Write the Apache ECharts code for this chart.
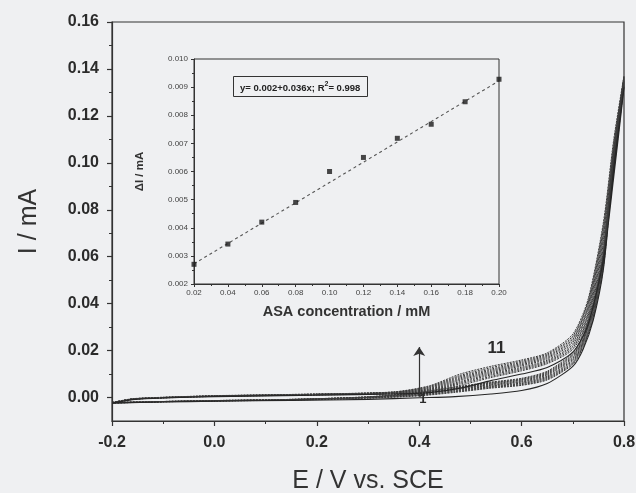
<!DOCTYPE html>
<html><head><meta charset="utf-8">
<script src="https://cdn.jsdelivr.net/npm/echarts@6/dist/echarts.min.js"></script>
<style>html,body{margin:0;padding:0;background:#eff0f2;} #c{width:636px;height:493px;}</style>
</head><body><div id="c"></div>
<script>
const FONT = '"Liberation Sans", Arial, sans-serif';

// ---- main plot tick values ----
const xMain = { min: -0.2, max: 0.8, step: 0.2 };
const yMajorTicks = [0, 0.02, 0.04, 0.06, 0.08, 0.10, 0.12, 0.14, 0.16];
const yMinorTicks = [0.01, 0.03, 0.05, 0.07, 0.09, 0.11, 0.13, 0.15];

// ---- CV scans (E / V vs. SCE, I / mA), cycles 1..11 ----
const forwardE = [-0.2, -0.16, -0.1, 0.0, 0.2, 0.35, 0.42, 0.48, 0.54, 0.60, 0.65, 0.70, 0.73, 0.76, 0.78, 0.80];
const forwardI = [
  [-0.0024,-0.0009,-0.0002,0.0004,0.0010,0.0015,0.0021,0.0040,0.0072,0.0100,0.0128,0.0193,0.0312,0.0590,0.0940,0.1320],
  [-0.0024,-0.0008,-0.0002,0.0005,0.0011,0.0016,0.0025,0.0052,0.0085,0.0114,0.0144,0.0205,0.0330,0.0612,0.0962,0.1325],
  [-0.0023,-0.0008,-0.0001,0.0005,0.0011,0.0017,0.0028,0.0058,0.0090,0.0119,0.0149,0.0212,0.0339,0.0628,0.0978,0.1330],
  [-0.0023,-0.0008,-0.0001,0.0005,0.0012,0.0018,0.0030,0.0063,0.0096,0.0124,0.0154,0.0219,0.0349,0.0644,0.0994,0.1335],
  [-0.0023,-0.0007,-0.0001,0.0006,0.0012,0.0019,0.0033,0.0068,0.0101,0.0129,0.0159,0.0226,0.0359,0.0659,0.1009,0.1340],
  [-0.0022,-0.0007,0.0000,0.0006,0.0013,0.0020,0.0035,0.0074,0.0106,0.0135,0.0165,0.0234,0.0370,0.0675,0.1025,0.1345],
  [-0.0022,-0.0007,0.0000,0.0006,0.0013,0.0021,0.0038,0.0079,0.0111,0.0140,0.0170,0.0241,0.0381,0.0691,0.1041,0.1350],
  [-0.0022,-0.0006,0.0000,0.0007,0.0014,0.0022,0.0041,0.0084,0.0116,0.0145,0.0175,0.0248,0.0391,0.0706,0.1056,0.1355],
  [-0.0022,-0.0006,0.0000,0.0007,0.0014,0.0023,0.0044,0.0089,0.0121,0.0150,0.0180,0.0255,0.0401,0.0721,0.1071,0.1360],
  [-0.0021,-0.0006,0.0001,0.0007,0.0015,0.0023,0.0047,0.0094,0.0127,0.0155,0.0185,0.0262,0.0411,0.0736,0.1086,0.1365],
  [-0.0021,-0.0005,0.0001,0.0008,0.0015,0.0024,0.0050,0.0100,0.0133,0.0160,0.0190,0.0270,0.0420,0.0750,0.1100,0.1370]
];
const reverseE = [0.78, 0.76, 0.74, 0.72, 0.70, 0.65, 0.60, 0.54, 0.47, 0.40, 0.30, 0.15, 0.0, -0.1, -0.2];
const reverseI = [
  [0.0980,0.0550,0.0330,0.0205,0.0133,0.0060,0.0030,0.0015,0.0004,-0.0001,-0.0008,-0.0012,-0.0016,-0.0019,-0.0024],
  [0.0988,0.0558,0.0338,0.0213,0.0141,0.0075,0.0052,0.0040,0.0022,0.0007,-0.0003,-0.0011,-0.0015,-0.0018,-0.0024],
  [0.0995,0.0565,0.0345,0.0219,0.0146,0.0079,0.0055,0.0043,0.0025,0.0009,-0.0002,-0.0010,-0.0015,-0.0018,-0.0023],
  [0.1003,0.0572,0.0352,0.0225,0.0151,0.0083,0.0059,0.0046,0.0028,0.0011,-0.0001,-0.0010,-0.0014,-0.0018,-0.0023],
  [0.1010,0.0580,0.0359,0.0231,0.0157,0.0087,0.0062,0.0049,0.0031,0.0013,0.0000,-0.0009,-0.0014,-0.0018,-0.0023],
  [0.1018,0.0587,0.0366,0.0237,0.0162,0.0091,0.0066,0.0052,0.0034,0.0015,0.0001,-0.0009,-0.0014,-0.0017,-0.0022],
  [0.1025,0.0595,0.0373,0.0243,0.0168,0.0096,0.0069,0.0055,0.0036,0.0016,0.0001,-0.0009,-0.0014,-0.0017,-0.0022],
  [0.1032,0.0602,0.0380,0.0249,0.0173,0.0100,0.0073,0.0058,0.0039,0.0018,0.0002,-0.0008,-0.0013,-0.0017,-0.0022],
  [0.1040,0.0610,0.0387,0.0256,0.0179,0.0104,0.0076,0.0061,0.0041,0.0019,0.0002,-0.0008,-0.0013,-0.0017,-0.0022],
  [0.1046,0.0615,0.0394,0.0262,0.0184,0.0108,0.0079,0.0063,0.0043,0.0021,0.0003,-0.0008,-0.0013,-0.0017,-0.0021],
  [0.1050,0.0620,0.0400,0.0268,0.0190,0.0112,0.0082,0.0066,0.0045,0.0022,0.0003,-0.0008,-0.0013,-0.0017,-0.0021]
];

// ---- inset: calibration ----
const asaConc = [0.02, 0.04, 0.06, 0.08, 0.10, 0.12, 0.14, 0.16, 0.18, 0.20];
const deltaI = [0.00270, 0.00342, 0.00420, 0.00490, 0.00600, 0.00650, 0.00718, 0.00768, 0.00848, 0.00928];
const fitX = [0.02, 0.20];
const fitY = [0.00272, 0.00922];
const fitText = ['y= 0.002+0.036x; R', '2', '= 0.998'];

// ---- annotations (data coords) ----
const arrowE = 0.40, arrowFrom = 0.0003, arrowTo = 0.0215;
const annotations = [
  { text: '1', E: 0.407, I: -0.0009, size: 13 },
  { text: '11', E: 0.551, I: 0.0208, size: 17 }
];

const chart = echarts.init(document.getElementById('c'), null, { renderer: 'canvas' });

const cvSeries = forwardI.map((fw, k) => {
  const pts = forwardE.map((e, i) => [e, fw[i]]).concat(reverseE.map((e, i) => [e, reverseI[k][i]]));
  const outer = (k === 0);
  return {
    type: 'line', xAxisIndex: 0, yAxisIndex: 0, data: pts,
    showSymbol: false, smooth: 0.25, silent: true, z: outer ? 4 : 3,
    lineStyle: outer ? { color: '#262626', width: 1.1 } : { color: '#3c3c3c', width: 1, type: [2, 1] },
    markLine: outer ? {
      silent: true, symbol: ['none', 'arrow'], symbolSize: 9,
      label: { show: false },
      lineStyle: { color: '#333', width: 1.2, type: 'solid' },
      data: [[{ coord: [arrowE, arrowFrom] }, { coord: [arrowE, arrowTo] }]]
    } : undefined
  };
});

const axisLineStyle = { color: '#333', width: 1.2 };

chart.setOption({
  backgroundColor: '#eff0f2',
  animation: false,
  title: {
    text: '{a|' + fitText[0] + '}{s|' + fitText[1] + '}{a|' + fitText[2] + '}',
    left: 233, top: 76,
    borderColor: '#333', borderWidth: 1, padding: [5, 7, 4, 7],
    textStyle: {
      rich: {
        a: { fontFamily: FONT, fontSize: 9.5, color: '#222', fontWeight: 'bold' },
        s: { fontFamily: FONT, fontSize: 7, color: '#222', fontWeight: 'bold', padding: [0, 0, 7, 0] }
      }
    }
  },
  grid: [
    { left: 112, right: 12, top: 22, bottom: 72, outerBoundsMode: 'none', containLabel: false,
      show: true, borderColor: '#333', borderWidth: 1.2, backgroundColor: 'transparent' },
    { left: 194, right: 137, top: 59, bottom: 209, outerBoundsMode: 'none', containLabel: false,
      show: true, borderColor: '#333', borderWidth: 1, backgroundColor: 'transparent' }
  ],
  xAxis: [
    {
      type: 'value', gridIndex: 0, min: xMain.min, max: xMain.max, interval: xMain.step,
      name: 'E / V vs. SCE', nameLocation: 'middle', nameGap: 48,
      nameTextStyle: { fontFamily: FONT, fontSize: 25, color: '#333' },
      axisLine: { onZero: false, lineStyle: axisLineStyle },
      axisTick: { show: true, inside: false, length: 5, lineStyle: axisLineStyle },
      minorTick: { show: true, splitNumber: 2, length: 3, lineStyle: { color: '#333', width: 1 } },
      axisLabel: { fontFamily: FONT, fontSize: 16, fontWeight: 'bold', color: '#2b2b2b', margin: 14,
        formatter: v => v.toFixed(1) },
      splitLine: { show: false }
    },
    {
      type: 'value', gridIndex: 1, min: 0.02, max: 0.20, interval: 0.02,
      name: 'ASA concentration / mM', nameLocation: 'middle', nameGap: 20,
      nameTextStyle: { fontFamily: FONT, fontSize: 14.5, fontWeight: 'bold', color: '#333' },
      axisLine: { onZero: false, lineStyle: { color: '#333', width: 1 } },
      axisTick: { show: true, length: 3, lineStyle: { color: '#333', width: 1 } },
      minorTick: { show: true, splitNumber: 2, length: 2, lineStyle: { color: '#333', width: 1 } },
      axisLabel: { fontFamily: FONT, fontSize: 8, color: '#444', margin: 5, formatter: v => v.toFixed(2) },
      splitLine: { show: false }
    }
  ],
  yAxis: [
    {
      type: 'value', gridIndex: 0, min: -0.01, max: 0.16,
      name: 'I / mA', nameLocation: 'middle', nameGap: 70, nameRotate: 90,
      nameTextStyle: { fontFamily: FONT, fontSize: 25, color: '#333' },
      axisLine: { show: true, onZero: false, lineStyle: axisLineStyle },
      axisTick: { show: true, length: 5, customValues: yMajorTicks, lineStyle: axisLineStyle },
      axisLabel: { fontFamily: FONT, fontSize: 16, fontWeight: 'bold', color: '#2b2b2b', margin: 13,
        customValues: yMajorTicks, formatter: v => v.toFixed(2) },
      splitLine: { show: false }
    },
    {
      type: 'value', gridIndex: 0, min: -0.01, max: 0.16, position: 'left', offset: 0,
      axisLine: { show: false, onZero: false },
      axisTick: { show: true, length: 3, customValues: yMinorTicks, lineStyle: { color: '#333', width: 1 } },
      axisLabel: { show: false },
      splitLine: { show: false }
    },
    {
      type: 'value', gridIndex: 1, min: 0.002, max: 0.010, interval: 0.001,
      name: 'ΔI / mA', nameLocation: 'middle', nameGap: 48, nameRotate: 90,
      nameTextStyle: { fontFamily: FONT, fontSize: 11.5, fontWeight: 'bold', color: '#333' },
      axisLine: { show: true, onZero: false, lineStyle: { color: '#333', width: 1 } },
      axisTick: { show: true, length: 3, lineStyle: { color: '#333', width: 1 } },
      minorTick: { show: true, splitNumber: 2, length: 2, lineStyle: { color: '#333', width: 1 } },
      axisLabel: { fontFamily: FONT, fontSize: 8, color: '#444', margin: 6, formatter: v => v.toFixed(3) },
      splitLine: { show: false }
    }
  ],
  series: cvSeries.concat([
    {
      type: 'line', xAxisIndex: 1, yAxisIndex: 2, silent: true, showSymbol: false,
      data: fitX.map((x, i) => [x, fitY[i]]),
      lineStyle: { color: '#555', width: 1.1, type: [3, 3] }, z: 3
    },
    {
      type: 'scatter', xAxisIndex: 1, yAxisIndex: 2, silent: true, symbol: 'rect', symbolSize: 5,
      itemStyle: { color: '#1a1a1a' },
      data: asaConc.map((x, i) => [x, deltaI[i]]), z: 4
    }
  ])
});

// annotation texts placed through the main axes' scales
chart.setOption({
  graphic: annotations.map(a => {
    const p = chart.convertToPixel({ xAxisIndex: 0, yAxisIndex: 0 }, [a.E, a.I]);
    return {
      type: 'text', x: p[0], y: p[1], z: 100, silent: true,
      style: { text: a.text, fontFamily: FONT, fontSize: a.size, fontWeight: 'bold', fill: '#2b2b2b',
        align: 'center', verticalAlign: 'middle' }
    };
  })
});
</script>
</body></html>
